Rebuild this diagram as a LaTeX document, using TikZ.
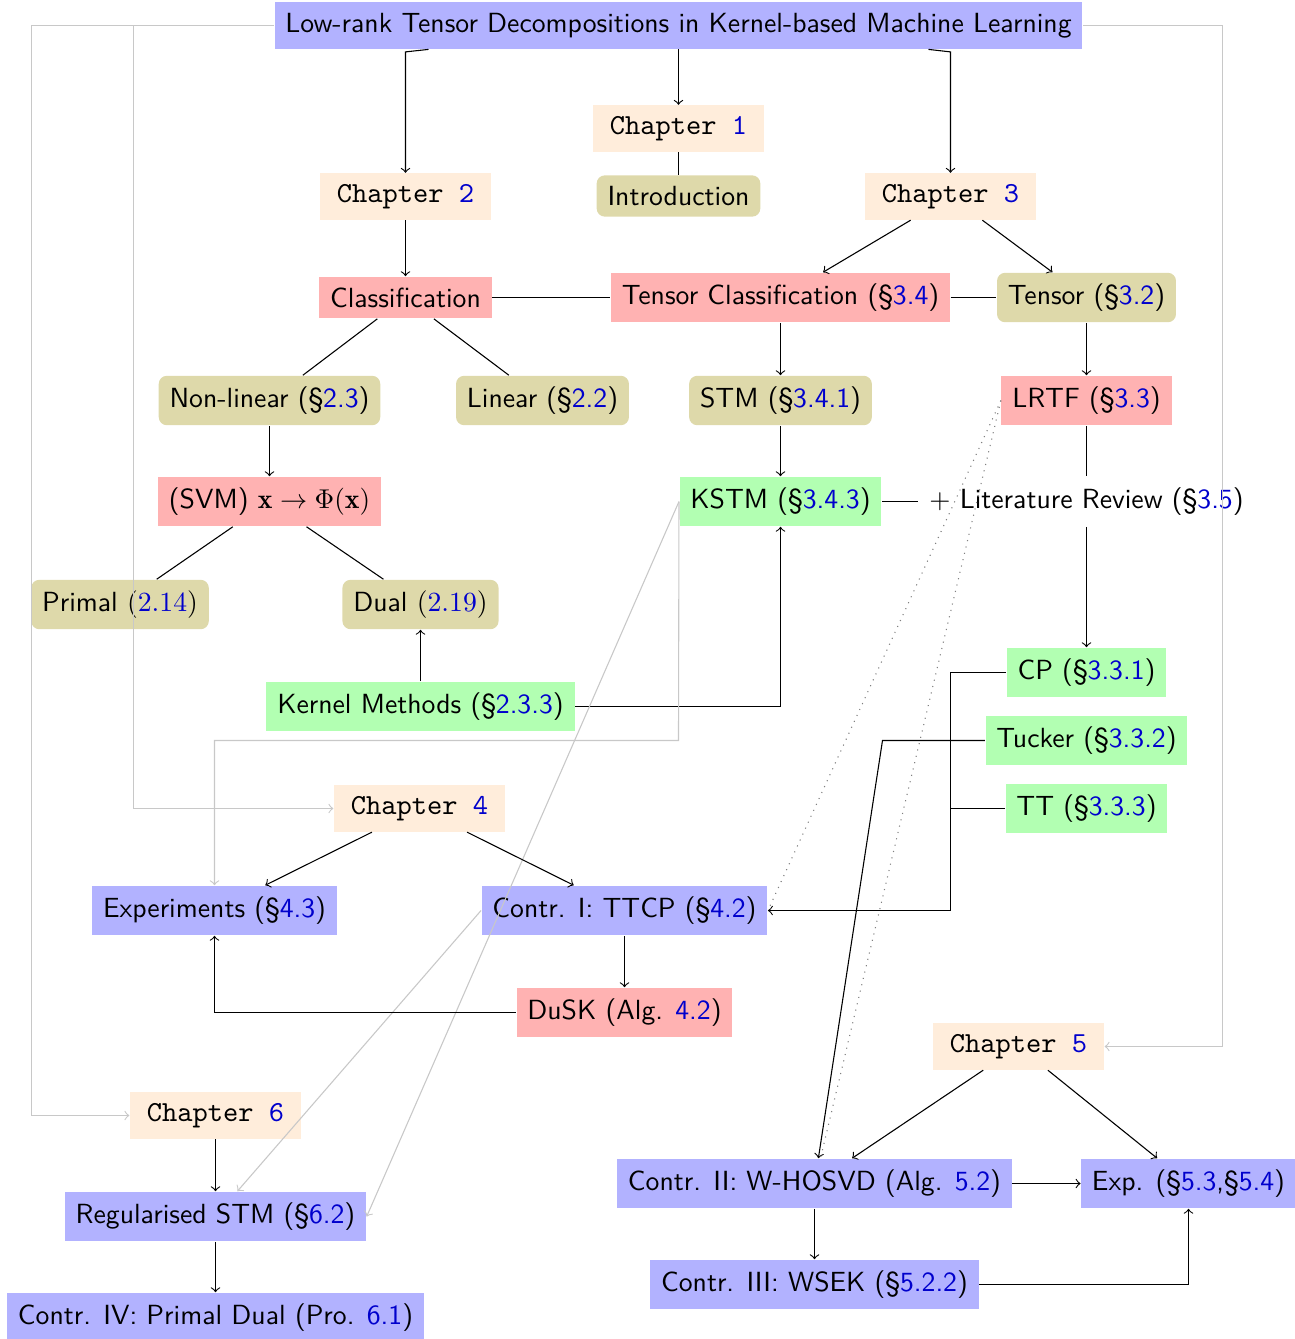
\documentclass[tikz,border=0pt]{standalone}
\usepackage{fontspec}
\definecolor{refblue}{rgb}{0,0,0.8}
\definecolor{chapfill}{RGB}{255,237,219}
\definecolor{topicfill}{RGB}{222,217,170}
\definecolor{linkgray}{RGB}{200,200,200}
\newcommand{\rf}[1]{\textcolor{refblue}{#1}}

\begin{document}
\begin{tikzpicture}[x=0.368pt,y=-0.368pt,
  box/.style={inner sep=4pt,font=\fontsize{10.2}{12}\selectfont\sffamily},
  chap/.style={box,fill=chapfill,font=\fontsize{10.7}{12}\selectfont\ttfamily,minimum width=63pt,minimum height=15.5pt},
  topic/.style={box,fill=topicfill,rounded corners=3pt},
  method/.style={box,fill=red!30},
  kern/.style={box,fill=green!30},
  contrib/.style={box,fill=blue!30},
  arr/.style={->},
  faint/.style={draw=linkgray},
  hint/.style={draw=gray,dotted}]

\useasboundingbox (0,0) rectangle (1295,1339);

% routing rails
\coordinate (railA) at (31.5,0);
\coordinate (railB) at (133.5,0);
\coordinate (railC) at (1222.5,0);
\coordinate (bus) at (950.5,0);
\coordinate (tbend) at (882.5,0);
\coordinate (kdrop) at (678.5,740.5);

% nodes
\node[contrib] (title) at (678.5,25.5) {Low-rank Tensor Decompositions in Kernel-based Machine Learning};
\node[chap] (ch1) at (678.5,128.5) {Chapter \rf{1}};
\node[topic] (intro) at (678.5,196) {Introduction};
\node[chap] (ch2) at (405.5,196.5) {Chapter \rf{2}};
\node[chap] (ch3) at (950.5,196.5) {Chapter \rf{3}};
\node[method] (classif) at (405.5,297.5) {Classification};
\node[method] (tclass) at (780.5,297.5) {Tensor Classification (\S\rf{3.4})};
\node[topic] (tensor) at (1086.5,297.5) {Tensor (\S\rf{3.2})};
\node[topic] (nonlin) at (269.5,400.5) {Non-linear (\S\rf{2.3})};
\node[topic] (linear) at (542.5,400.5) {Linear (\S\rf{2.2})};
\node[topic] (stm) at (780.5,400.5) {STM (\S\rf{3.4.1})};
\node[method] (lrtf) at (1086.5,400.5) {LRTF (\S\rf{3.3})};
\node[method] (svm) at (269.5,501.5) {(SVM) $\mathbf{x}\to\Phi(\mathbf{x})$};
\node[kern] (kstm) at (780.5,501.5) {KSTM (\S\rf{3.4.3})};
\node[box] (litrev) at (1086.5,501.5) {$+$ Literature Review (\S\rf{3.5})};
\node[topic] (primal) at (120,604.5) {Primal \textrm{(\rf{2.14})}};
\node[topic] (dual) at (420.5,604.5) {Dual \textrm{(\rf{2.19})}};
\node[kern] (kernel) at (420.5,706.5) {Kernel Methods (\S\rf{2.3.3})};
\node[kern] (cp) at (1086.5,672.5) {CP (\S\rf{3.3.1})};
\node[kern] (tucker) at (1086.5,740.5) {Tucker (\S\rf{3.3.2})};
\node[kern] (tt) at (1086.5,808.5) {TT (\S\rf{3.3.3})};
\node[chap] (ch4) at (419.5,808.5) {Chapter \rf{4}};
\node[contrib] (exper) at (214.5,910.5) {Experiments (\S\rf{4.3})};
\node[contrib] (ttcp) at (624.5,910.5) {Contr. I: TTCP (\S\rf{4.2})};
\node[method] (dusk) at (624.5,1012.5) {DuSK (Alg. \rf{4.2})};
\node[chap] (ch5) at (1018.5,1046.5) {Chapter \rf{5}};
\node[chap] (ch6) at (215.5,1115.5) {Chapter \rf{6}};
\node[contrib] (whosvd) at (814.5,1183.5) {Contr. II: W-HOSVD (Alg. \rf{5.2})};
\node[contrib] (exp5) at (1188.5,1183.5) {Exp. (\S\rf{5.3},\S\rf{5.4})};
\node[contrib] (regstm) at (215.5,1216.5) {Regularised STM (\S\rf{6.2})};
\node[contrib] (wsek) at (814.5,1284.5) {Contr. III: WSEK (\S\rf{5.2.2})};
\node[contrib] (contr4) at (215.5,1317.5) {Contr. IV: Primal Dual (Pro. \rf{6.1})};

% thesis overview
\draw[arr] (title.south) ++(-250,0) -- ++(-23,2.5) -- (ch2.north);
\draw[arr] (title) -- (ch1);
\draw (ch1) -- (intro);
\draw[arr] (title.south) ++(250,0) -- ++(22,2.5) -- (ch3.north);
\draw[faint,->] (title.west) -- (title.west -| railA) |- (ch6.west);
\draw[faint,->] (title.west) -- (title.west -| railB) |- (ch4.west);
\draw[faint,->] (title.east) -- (title.east -| railC) |- (ch5.east);

% chapters 2 and 3
\draw[arr] (ch2) -- (classif);
\draw (classif) -- (tclass);
\draw (tclass) -- (tensor);
\draw[arr] (ch3) -- (tclass);
\draw[arr] (ch3) -- (tensor);
\draw (classif) -- (nonlin);
\draw (classif) -- (linear);
\draw[arr] (tclass) -- (stm);
\draw[arr] (tensor) -- (lrtf);
\draw[arr] (nonlin) -- (svm);
\draw[arr] (stm) -- (kstm);
\draw (svm) -- (primal);
\draw (svm) -- (dual);
\draw (kstm) -- (litrev);
\draw (lrtf) -- (litrev);
\draw[arr] (litrev) -- (cp);
\draw[arr] (kernel) -- (dual);
\draw[arr] (kernel) -| (kstm);
\draw[arr] (cp.west) -- (cp.west -| bus) |- (ttcp.east);
\draw (tt.west) -- (tt.west -| bus);
\draw[arr] (tucker.west) -- (tucker.west -| tbend) -- (whosvd);

% links into later chapters
\draw[faint,->] (kstm.west) -- (kdrop) -| (exper.north);
\draw[faint,->] (kstm.west) -- (regstm.east);
\draw[faint,->] (ttcp.west) -- (regstm);
\draw[hint] (lrtf.west) -- (ttcp.east);
\draw[hint] (lrtf.west) -- (whosvd);

% chapter 4
\draw[arr] (ch4) -- (exper);
\draw[arr] (ch4) -- (ttcp);
\draw[arr] (ttcp) -- (dusk);
\draw[arr] (dusk) -| (exper);

% chapter 5
\draw[arr] (ch5) -- (whosvd);
\draw[arr] (ch5) -- (exp5);
\draw[arr] (whosvd) -- (exp5);
\draw[arr] (whosvd) -- (wsek);
\draw[arr] (wsek) -| (exp5);

% chapter 6
\draw[arr] (ch6) -- (regstm);
\draw[arr] (regstm) -- (contr4);
\end{tikzpicture}
\end{document}
